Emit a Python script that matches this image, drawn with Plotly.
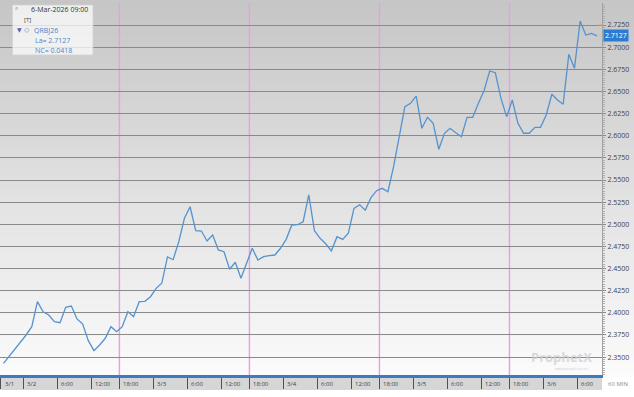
import pandas as pd
import plotly.graph_objects as go

# ---------------- data ----------------
symbol = "QRBJ26"
bar_interval = "60 MIN"
session_start = "2026-03-01 20:00"
session_end = "2026-03-06 09:00"
closed_hour = 17  # daily maintenance break (no bar)
prev_settle = 2.6709

closes = [
    2.3430, 2.3510, 2.3600, 2.3674, 2.3750, 2.3844, 2.4126, 2.4013, 2.3976, 2.3900,
    2.3889, 2.4063, 2.4077, 2.3931, 2.3874, 2.3686, 2.3573, 2.3637, 2.3713, 2.3844,
    2.3787, 2.3844, 2.4013, 2.3957, 2.4126, 2.4130, 2.4182, 2.4277, 2.4334, 2.4631,
    2.4600, 2.4803, 2.5068, 2.5198, 2.4928, 2.4924, 2.4811, 2.4879, 2.4710, 2.4690,
    2.4492, 2.4571, 2.4390, 2.4560, 2.4729, 2.4597, 2.4634, 2.4645, 2.4653, 2.4729,
    2.4830, 2.4992, 2.4995, 2.5029, 2.5331, 2.4928, 2.4842, 2.4780, 2.4700, 2.4860,
    2.4830, 2.4900, 2.5180, 2.5220, 2.5160, 2.5300, 2.5379, 2.5406, 2.5368, 2.5650,
    2.5989, 2.6328, 2.6366, 2.6448, 2.6084, 2.6208, 2.6140, 2.5847, 2.6027, 2.6084,
    2.6034, 2.5989, 2.6208, 2.6208, 2.6366, 2.6508, 2.6731, 2.6711, 2.6422, 2.6215,
    2.6403, 2.6140, 2.6028, 2.6028, 2.6095, 2.6095, 2.6234, 2.6468, 2.6403, 2.6355,
    2.6919, 2.6761, 2.7295, 2.7137, 2.7156, 2.7127,
]
y_ticks = [2.35 + 0.025 * k for k in range(16)]
label_hours = [0, 6, 12, 18]
session_open_hour = 18

# ---------------- build ----------------
times = [t for t in pd.date_range(session_start, session_end, freq="h") if t.hour != closed_hour]
idx = list(range(len(times)))
last = closes[-1]
net_change = last - prev_settle

tick_pos, tick_txt, sess_pos = [-0.5], [f"{times[0].month}/{times[0].day}"], []
for i, t in enumerate(times):
    if t.hour in label_hours:
        tick_pos.append(i - 0.5)
        tick_txt.append(f"{t.month}/{t.day}" if t.hour == 0 else f"{t.hour}:00")
    if t.hour == session_open_hour:
        sess_pos.append(i - 0.5)

W, H = 634, 397
ML, MR, MT, MB = 0, 32, 3, 22
PW, PH = W - ML - MR, H - MT - MB

def px(x):
    return (x - ML) / PW

def py(y):
    return (H - MB - y) / PH

FONT = "Open Sans"
BLUE_TXT = "#4a86c8"

fig = go.Figure()
fig.add_trace(go.Scatter(
    x=idx, y=closes, mode="lines",
    line=dict(color="#5593cf", width=1.3),
    hoverinfo="skip", showlegend=False,
))

shapes = []
# vertical gradient background (plot + right axis area)
n = 124
step = 1.0 / n
for k in range(n):
    t = (k + 0.5) / n
    c = int(round(198 + (251 - 198) * t))
    shapes.append(dict(
        type="rect", xref="paper", yref="paper",
        x0=0, x1=W / PW, y0=1 - (k + 1) * step - 0.004, y1=(1 - k * step) + (0.02 if k == 0 else 0),
        fillcolor=f"rgb({c},{c},{c})", line=dict(width=0), layer="below",
    ))
# label strip under the time axis
shapes.append(dict(type="rect", xref="paper", yref="paper",
                   x0=0, x1=1, y0=py(390), y1=py(377),
                   fillcolor="#d6d6d6", line=dict(width=0), layer="below"))
# session separators
for s in sess_pos:
    shapes.append(dict(type="line", xref="x", yref="paper", x0=s, x1=s, y0=0, y1=1,
                       line=dict(color="#ea9cea", width=1.4), layer="between"))
# info box
shapes.append(dict(type="rect", xref="paper", yref="paper",
                   x0=px(12.5), x1=px(93), y0=py(55), y1=py(5),
                   fillcolor="rgba(255,255,255,0.72)", line=dict(color="rgba(210,210,210,0.8)", width=1),
                   layer="above"))
# high marker tick on price axis
shapes.append(dict(type="line", xref="paper", yref="y", x0=px(598), x1=px(603),
                   y0=2.725, y1=2.725, line=dict(color="#e0a060", width=1)))

ann = []
for p, txt in zip(tick_pos, tick_txt):
    ann.append(dict(x=p, y=py(384), xref="x", yref="paper", text=txt, showarrow=False,
                    xanchor="left", yanchor="middle", xshift=2,
                    font=dict(family=FONT, size=6, color="#404040")))
ann.append(dict(x=px(606), y=py(384), xref="paper", yref="paper", text=bar_interval,
                showarrow=False, xanchor="left", yanchor="middle",
                font=dict(family=FONT, size=6, color="#7f8c9a")))
ann.append(dict(x=1, y=last, xref="paper", yref="y", text=f"{last:.4f}", showarrow=False,
                xanchor="left", yanchor="middle", xshift=1, bgcolor="#2b7dd3", borderpad=1,
                font=dict(family=FONT, size=7, color="white")))
# info box texts
ann += [
    dict(x=px(13), y=py(8), text="⌕", font=dict(family="DejaVu Sans", size=6, color="#555")),
    dict(x=px(29), y=py(10), text=f"{times[-1].day}-{times[-1]:%b-%Y %H:%M}",
         font=dict(family=FONT, size=7, color="#333")),
    dict(x=px(22), y=py(20), text="[T]", font=dict(family=FONT, size=6, color="#444")),
    dict(x=px(15), y=py(29.5), text="▼", font=dict(family="DejaVu Sans", size=6, color="#5561b8")),
    dict(x=px(22), y=py(29.5), text="◇", font=dict(family="DejaVu Sans", size=7, color="#5b8fd0")),
    dict(x=px(32), y=py(30), text=symbol, font=dict(family=FONT, size=7, color=BLUE_TXT)),
    dict(x=px(33), y=py(40.5), text=f"La= {last:.4f}", font=dict(family=FONT, size=7, color=BLUE_TXT)),
    dict(x=px(33), y=py(50.5), text=f"NC= {net_change:.4f}", font=dict(family=FONT, size=7, color=BLUE_TXT)),
    dict(x=px(561), y=py(357), text="<b>ProphetX</b>", xanchor="center",
         font=dict(family="Open Sans", size=13, color="rgba(205,205,210,0.75)")),
    dict(x=px(590), y=py(368), text="www.prophetx.co", xanchor="right",
         font=dict(family="Open Sans", size=4, color="rgba(190,190,190,0.8)")),
]
for a in ann[len(tick_pos) + 2:]:
    a.update(xref="paper", yref="paper", showarrow=False, yanchor="middle")
    a.setdefault("xanchor", "left")

fig.update_layout(
    width=W, height=H,
    margin=dict(l=ML, r=MR, t=MT, b=MB, pad=0),
    paper_bgcolor="white", plot_bgcolor="rgba(0,0,0,0)",
    shapes=shapes, annotations=ann, showlegend=False,
    xaxis=dict(range=[-0.623, 105.87], showgrid=False, zeroline=False,
               tickmode="array", tickvals=tick_pos, ticktext=tick_txt, showticklabels=False,
               ticks="outside", ticklen=11, tickcolor="#505050", tickwidth=1,
               showline=True, linecolor="#3b7bc6", linewidth=3, fixedrange=True),
    yaxis=dict(side="right", range=[2.32983, 2.74984], tickmode="array", tickvals=y_ticks,
               tickformat=".4f", showgrid=True, gridcolor="#8a8a8a", gridwidth=1,
               zeroline=False, ticks="outside", ticklen=3, tickcolor="#8a8a8a",
               showline=True, linecolor="#a0a0a0", linewidth=1,
               tickfont=dict(family=FONT, size=7, color="#444"),
               minor=dict(ticks="outside", ticklen=2, dtick=0.0025, tickcolor="#b0b0b0", showgrid=False)),
)

fig.write_html("out.html")
